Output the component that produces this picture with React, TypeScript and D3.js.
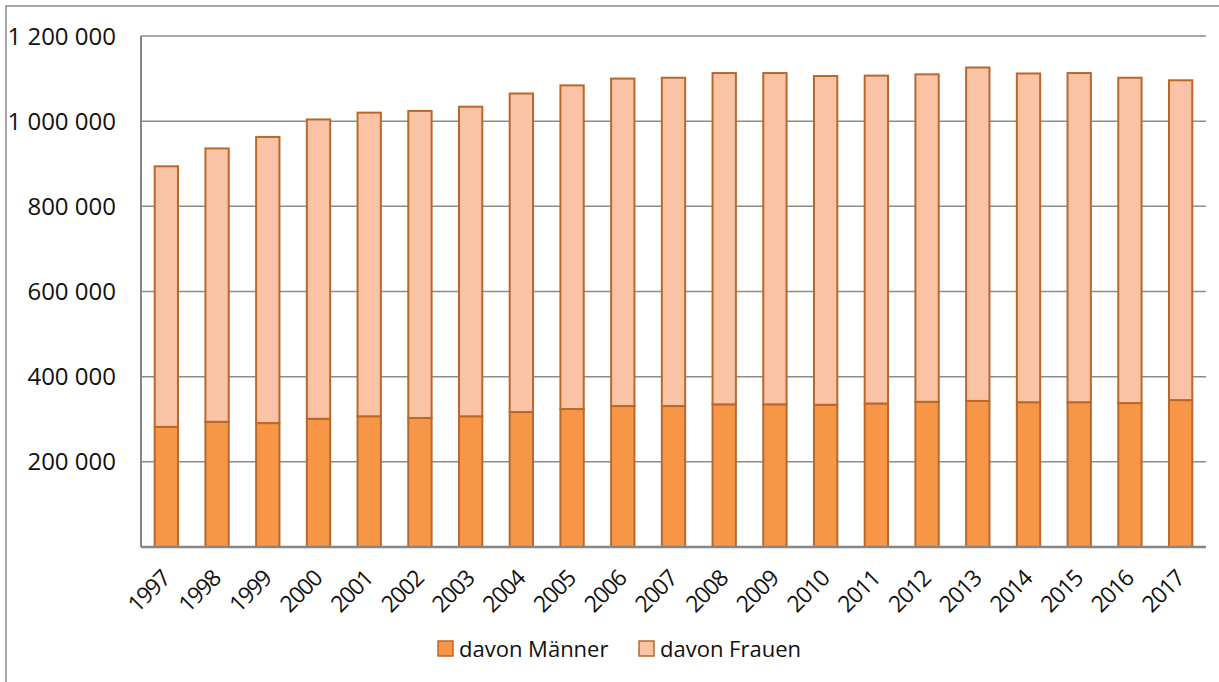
import React from "react";
import * as d3 from "d3";

const years = ["1997", "1998", "1999", "2000", "2001", "2002", "2003", "2004", "2005", "2006", "2007",
  "2008", "2009", "2010", "2011", "2012", "2013", "2014", "2015", "2016", "2017"];
const maenner = [282000, 294000, 291000, 301000, 307000, 303000, 307000, 317000, 324000, 331000, 331000,
  335000, 335000, 334000, 337000, 341000, 343000, 340000, 340000, 338000, 345000];
const gesamt = [894000, 936000, 963000, 1004000, 1020000, 1024000, 1034000, 1065000, 1084000, 1100000, 1102000,
  1113000, 1113000, 1106000, 1107000, 1110000, 1126000, 1112000, 1113000, 1102000, 1096000];
const frauen = gesamt.map((g, i) => g - maenner[i]);
const yTicks = [200000, 400000, 600000, 800000, 1000000, 1200000];
const seriesNames = ["davon Männer", "davon Frauen"];

const W = 1219, H = 682;
const colors = ["#F79646", "#FAC3A6"];
const stroke = "#B9682C";
const font = "'Open Sans', 'Noto Sans', sans-serif";

const fmt = (v: number) => d3.format(",")(v).replace(/,/g, " ");

export default function App() {
  const left = 141, right = 1206, top = 36, bottom = 547;
  const x = d3.scaleBand().domain(years).range([left, right]).paddingInner(0.54).paddingOuter(0.27);
  const y = d3.scaleLinear().domain([0, 1200000]).range([bottom, top]);

  const rows = years.map((yr, i) => ({ year: yr, m: maenner[i], f: frauen[i] }));
  const stack = d3.stack<any>().keys(["m", "f"])(rows);

  return (
    <svg width={W} height={H} style={{ position: "absolute", left: 0, top: 0, background: "#fff" }}>
      <rect x={6} y={6} width={W + 10} height={H + 10} fill="#fff" stroke="#8a8a8a" strokeWidth={1.5} />
      {yTicks.map(t => (
        <g key={t}>
          <line x1={left} x2={right} y1={y(t)} y2={y(t)} stroke="#8c8c8c" strokeWidth={1.5} />
          <text x={116} y={y(t)} dy="0.36em" textAnchor="end" fontSize={24} fontFamily={font} fill="#111">{fmt(t)}</text>
        </g>
      ))}
      {stack.map((s, si) => (
        <g key={si}>
          {s.map((d, i) => (
            <rect key={i} x={x(years[i])!} width={x.bandwidth()} y={y(d[1])} height={y(d[0]) - y(d[1])}
              fill={colors[si]} stroke={stroke} strokeWidth={2} />
          ))}
        </g>
      ))}
      <line x1={left} x2={left} y1={top} y2={bottom} stroke="#868686" strokeWidth={2} />
      <line x1={left} x2={right} y1={bottom} y2={bottom} stroke="#868686" strokeWidth={2.5} />
      {years.map(yr => {
        const cx = x(yr)! + x.bandwidth() / 2 + 5;
        return (
          <text key={yr} transform={`translate(${cx},${580}) rotate(-45)`} textAnchor="end"
            fontSize={23} letterSpacing={-1.2} fontFamily={font} fill="#111">{yr}</text>
        );
      })}
      {seriesNames.map((n, i) => {
        const lx = [438, 639][i];
        return (
          <g key={n}>
            <rect x={lx} y={641} width={15} height={15} fill={colors[i]} stroke={stroke} strokeWidth={1.5} />
            <text x={lx + 21} y={649} dy="0.36em" fontSize={22} fontFamily={font} fill="#111">{n}</text>
          </g>
        );
      })}
    </svg>
  );
}
